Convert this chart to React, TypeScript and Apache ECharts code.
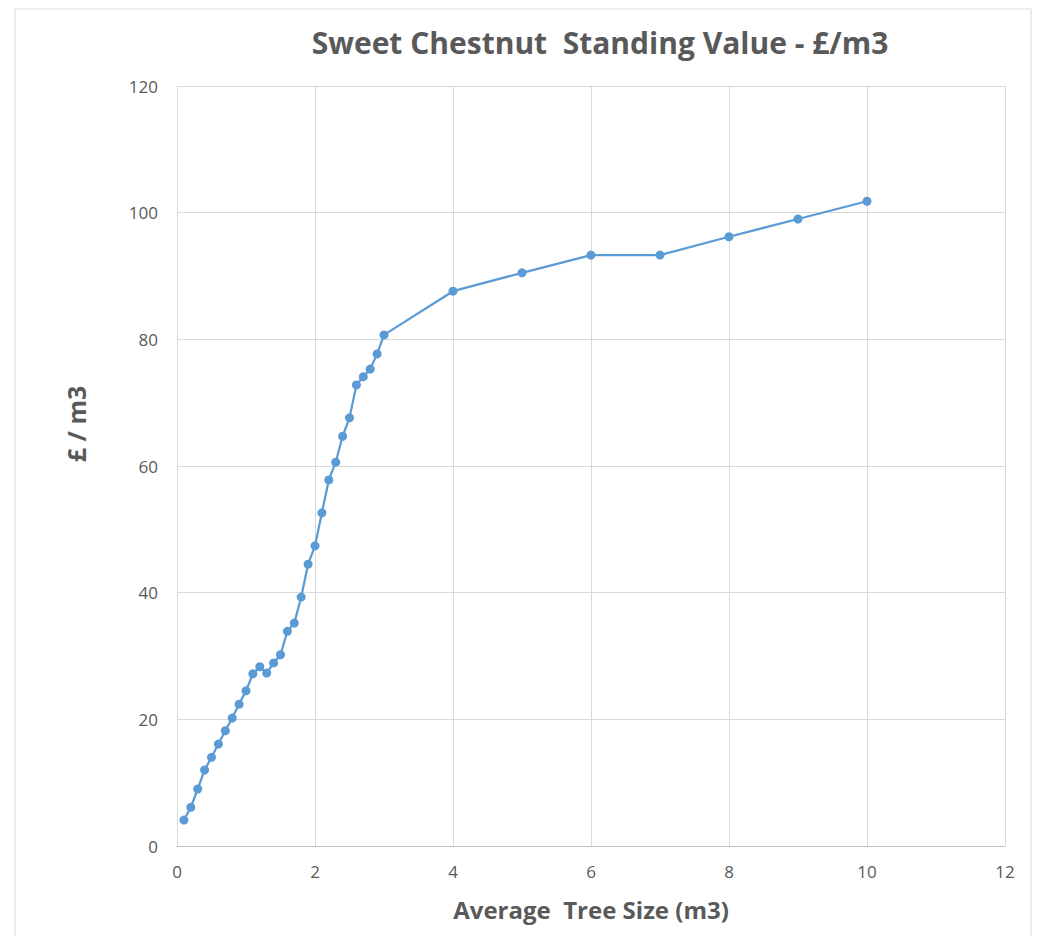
import React, { useEffect, useRef } from "react";
import * as echarts from "echarts";

const treeSize = [
  0.1, 0.2, 0.3, 0.4, 0.5, 0.6, 0.7, 0.8, 0.9, 1.0,
  1.1, 1.2, 1.3, 1.4, 1.5, 1.6, 1.7, 1.8, 1.9, 2.0,
  2.1, 2.2, 2.3, 2.4, 2.5, 2.6, 2.7, 2.8, 2.9, 3.0,
  4, 5, 6, 7, 8, 9, 10,
];
const standingValue = [
  4.1, 6.1, 9.0, 12.0, 14.0, 16.1, 18.2, 20.2, 22.4, 24.5,
  27.2, 28.3, 27.3, 28.9, 30.2, 33.9, 35.2, 39.3, 44.5, 47.4,
  52.6, 57.8, 60.6, 64.7, 67.6, 72.8, 74.1, 75.3, 77.7, 80.7,
  87.6, 90.5, 93.3, 93.3, 96.2, 99.0, 101.8,
];

const titleText = "Sweet Chestnut  Standing Value - \u00a3/m3";
const xName = "Average  Tree Size (m3)";
const yName = "\u00a3 / m3";

export default function App() {
  const ref = useRef<HTMLDivElement>(null);
  useEffect(() => {
    if (!ref.current) return;
    const chart = echarts.init(ref.current, undefined, { renderer: "svg" });
    const font = "'Open Sans', 'Noto Sans', sans-serif";
    chart.setOption({
      animation: false,
      backgroundColor: "#ffffff",
      textStyle: { fontFamily: font },
      grid: { left: 177, top: 86, right: 32, bottom: 90, containLabel: false },
      graphic: [
        {
          type: "rect",
          shape: { x: 15, y: 9, width: 1016, height: 940 },
          style: { fill: "none", stroke: "#d9d9d9", lineWidth: 1 },
          silent: true,
        },
        {
          type: "text",
          x: 600,
          y: 42,
          style: {
            text: titleText,
            fontFamily: font,
            fontWeight: "bold",
            fontSize: 30,
            fill: "#595959",
            align: "center",
            verticalAlign: "middle",
          },
        },
        {
          type: "text",
          x: 591,
          y: 909,
          style: {
            text: xName,
            fontFamily: font,
            fontWeight: "bold",
            fontSize: 24,
            fill: "#595959",
            align: "center",
            verticalAlign: "middle",
          },
        },
        {
          type: "text",
          x: 76,
          y: 424,
          rotation: Math.PI / 2,
          style: {
            text: yName,
            fontFamily: font,
            fontWeight: "bold",
            fontSize: 25,
            fill: "#595959",
            align: "center",
            verticalAlign: "middle",
          },
        },
      ],
      xAxis: {
        type: "value",
        min: 0,
        max: 12,
        interval: 2,
        axisLine: { show: true, lineStyle: { color: "#bfbfbf", width: 1 } },
        axisTick: { show: false },
        axisLabel: { color: "#595959", fontSize: 17, margin: 17, fontFamily: font },
        splitLine: { show: true, lineStyle: { color: "#d9d9d9", width: 1 } },
      },
      yAxis: {
        type: "value",
        min: 0,
        max: 120,
        interval: 20,
        axisLine: { show: false },
        axisTick: { show: false },
        axisLabel: { color: "#595959", fontSize: 17, margin: 19, fontFamily: font },
        splitLine: { show: true, lineStyle: { color: "#d9d9d9", width: 1 } },
      },
      series: [
        {
          type: "line",
          data: treeSize.map((x, i) => [x, standingValue[i]]),
          symbol: "circle",
          symbolSize: 9,
          lineStyle: { color: "#5b9bd5", width: 2.25 },
          itemStyle: { color: "#5b9bd5" },
        },
      ],
    });
    return () => chart.dispose();
  }, []);
  return (
    <div
      ref={ref}
      style={{ position: "fixed", left: 0, top: 0, width: 1037, height: 936 }}
    />
  );
}
